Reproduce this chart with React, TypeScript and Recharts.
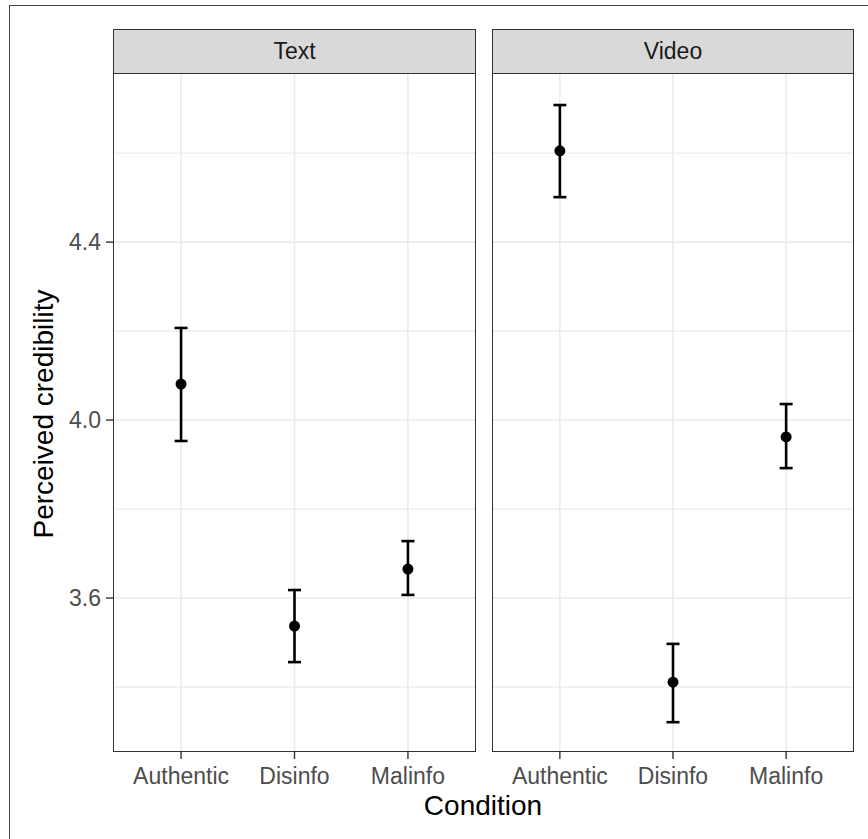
import {
  CartesianGrid,
  ComposedChart,
  ErrorBar,
  ReferenceLine,
  Scatter,
  XAxis,
  YAxis,
} from "recharts";

const conditions = ["Authentic", "Disinfo", "Malinfo"];

const textMean = [4.081, 3.537, 3.665];
const textLow = [3.953, 3.456, 3.607];
const textHigh = [4.207, 3.618, 3.728];

const videoMean = [4.605, 3.411, 3.962];
const videoLow = [4.501, 3.321, 3.892];
const videoHigh = [4.708, 3.497, 4.036];

const yTicks = [3.6, 4.0, 4.4];
const yMinor = [3.4, 3.8, 4.2, 4.6];

const FONT = "'Liberation Sans', Arial, Helvetica, sans-serif";
const BORDER = "#333333";
const GRID = "#EBEBEB";
const TICK_TEXT = "#4D4D4D";

const PLOT_TOP = 73;
const PLOT_BOTTOM = 752;
const H = 839;
const X_AXIS_H = 34;

function buildRows(mean: number[], low: number[], high: number[]) {
  return conditions.map((c, i) => ({
    pos: i + 1,
    label: c,
    mean: mean[i],
    err: [mean[i] - low[i], high[i] - mean[i]],
  }));
}

function Dot(props: any) {
  return <circle cx={props.cx} cy={props.cy} r={5.5} fill="#000" />;
}

function Panel({
  title,
  rows,
  left,
  width,
  plotLeft,
  plotRight,
  showY,
}: {
  title: string;
  rows: ReturnType<typeof buildRows>;
  left: number;
  width: number;
  plotLeft: number;
  plotRight: number;
  showY: boolean;
}) {
  const yAxisW = showY ? 60 : 0;
  return (
    <>
      <div style={{ position: "absolute", left, top: 0 }}>
        <ComposedChart
          width={width}
          height={H}
          data={rows}
          margin={{
            top: PLOT_TOP,
            bottom: H - PLOT_BOTTOM - X_AXIS_H,
            left: plotLeft - left - yAxisW,
            right: left + width - plotRight,
          }}
        >
          <CartesianGrid stroke="none" />
          {yMinor.map((v) => (
            <ReferenceLine key={"m" + v} y={v} stroke={GRID} strokeWidth={1.2} />
          ))}
          {yTicks.map((v) => (
            <ReferenceLine key={"t" + v} y={v} stroke={GRID} strokeWidth={1.6} />
          ))}
          {rows.map((r) => (
            <ReferenceLine key={"x" + r.pos} x={r.pos} stroke={GRID} strokeWidth={1.6} />
          ))}
          <XAxis
            type="number"
            dataKey="pos"
            domain={[0.4, 3.6]}
            ticks={[1, 2, 3]}
            tickFormatter={(v: number) => conditions[v - 1]}
            axisLine={false}
            tickLine={{ stroke: BORDER, strokeWidth: 1.4 }}
            tickSize={7}
            tickMargin={9}
            height={X_AXIS_H}
            tick={{ fill: TICK_TEXT, fontSize: 23, fontFamily: FONT }}
            allowDataOverflow
          />
          <YAxis
            type="number"
            domain={[3.254, 4.78]}
            ticks={yTicks}
            tickFormatter={(v: number) => v.toFixed(1)}
            axisLine={false}
            tickLine={{ stroke: BORDER, strokeWidth: 1.4 }}
            tickSize={7}
            tickMargin={5}
            width={yAxisW}
            hide={!showY}
            tick={{ fill: TICK_TEXT, fontSize: 23, fontFamily: FONT }}
            allowDataOverflow
          />
          <Scatter dataKey="mean" shape={<Dot />} isAnimationActive={false}>
            <ErrorBar
              dataKey="err"
              direction="y"
              width={6.5}
              stroke="#000"
              strokeWidth={2.6}
              isAnimationActive={false}
            />
          </Scatter>
        </ComposedChart>
      </div>
      {/* panel border */}
      <div
        style={{
          position: "absolute",
          left: plotLeft,
          top: PLOT_TOP,
          width: plotRight - plotLeft,
          height: PLOT_BOTTOM - PLOT_TOP,
          border: `1.5px solid ${BORDER}`,
          boxSizing: "border-box",
          pointerEvents: "none",
        }}
      />
      {/* facet strip */}
      <div
        style={{
          position: "absolute",
          left: plotLeft,
          top: 29,
          width: plotRight - plotLeft,
          height: PLOT_TOP - 29 + 1,
          background: "#D9D9D9",
          border: `1.5px solid ${BORDER}`,
          boxSizing: "border-box",
          display: "flex",
          alignItems: "center",
          justifyContent: "center",
          fontFamily: FONT,
          fontSize: 23,
          color: "#1A1A1A",
        }}
      >
        {title}
      </div>
    </>
  );
}

export default function App() {
  const textRows = buildRows(textMean, textLow, textHigh);
  const videoRows = buildRows(videoMean, videoLow, videoHigh);
  return (
    <div
      style={{
        position: "absolute",
        left: 0,
        top: 0,
        width: 868,
        height: H,
        background: "#fff",
        overflow: "hidden",
      }}
    >
      {/* frame of the figure */}
      <div
        style={{
          position: "absolute",
          left: 9,
          top: 5,
          width: 900,
          height: 900,
          borderLeft: "1.5px solid #444",
          borderTop: "1.5px solid #444",
        }}
      />
      <Panel
        title="Text"
        rows={textRows}
        left={0}
        width={484}
        plotLeft={113}
        plotRight={476}
        showY
      />
      <Panel
        title="Video"
        rows={videoRows}
        left={484}
        width={384}
        plotLeft={492}
        plotRight={854}
        showY={false}
      />
      <div
        style={{
          position: "absolute",
          left: 44,
          top: 414,
          transform: "translate(-50%, -50%) rotate(-90deg)",
          whiteSpace: "nowrap",
          fontFamily: FONT,
          fontSize: 28,
          color: "#000",
        }}
      >
        Perceived credibility
      </div>
      <div
        style={{
          position: "absolute",
          left: 483,
          top: 806,
          transform: "translate(-50%, -50%)",
          whiteSpace: "nowrap",
          fontFamily: FONT,
          fontSize: 28,
          color: "#000",
        }}
      >
        Condition
      </div>
    </div>
  );
}
